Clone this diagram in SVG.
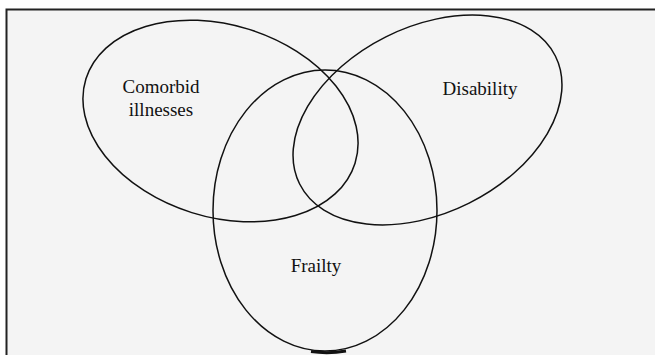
<svg xmlns="http://www.w3.org/2000/svg" width="655" height="355" viewBox="0 0 655 355">
<style>
.sh{fill:none;stroke:#111;stroke-width:1.5}
.lb{font-family:"Liberation Serif","Times New Roman",serif;font-size:19px;fill:#111;text-anchor:middle}
</style>
<rect x="0" y="0" width="655" height="355" fill="#fff"/>
<rect x="7" y="10" width="648" height="345" fill="#f4f4f4"/>
<path d="M6.5 355 V9.5 H655" fill="none" stroke="#222" stroke-width="2"/>
<g id="comorbid">
<ellipse class="sh" cx="220.5" cy="121" rx="141" ry="96" transform="rotate(17.4 220.5 121)"/>
<text class="lb" x="161" y="93">Comorbid</text>
<text class="lb" x="161" y="116">illnesses</text>
</g>
<g id="disability">
<ellipse class="sh" cx="427.5" cy="120" rx="143" ry="93" transform="rotate(-26.6 427.5 120)"/>
<text class="lb" x="480" y="95">Disability</text>
</g>
<g id="frailty">
<ellipse class="sh" cx="325" cy="210.5" rx="112" ry="140.5"/>
<path d="M311 351.5 Q328 354 346 351" fill="none" stroke="#111" stroke-width="3"/>
<text class="lb" x="316" y="272">Frailty</text>
</g>
<g id="connectors"></g>
</svg>
